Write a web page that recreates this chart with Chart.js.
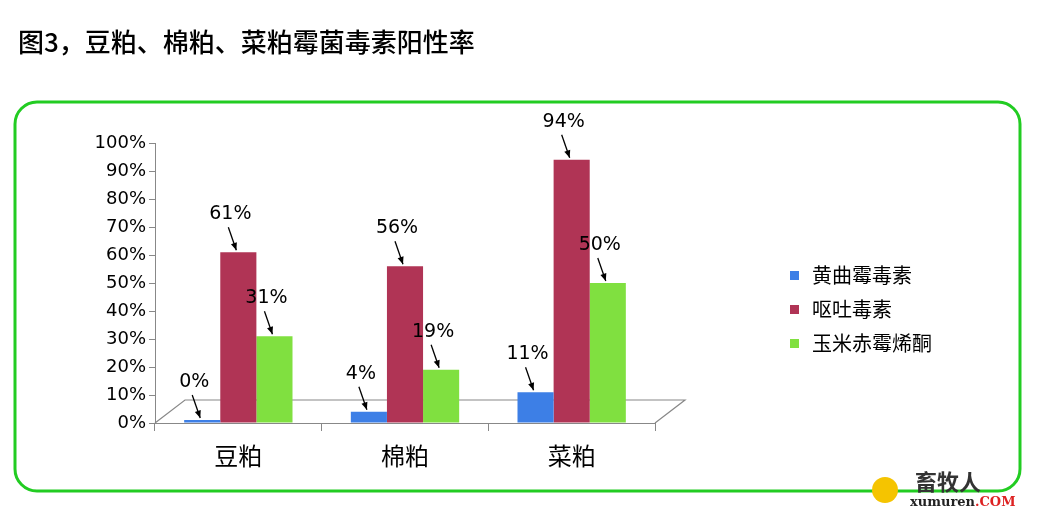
<!DOCTYPE html>
<html><head><meta charset="utf-8">
<script src="https://cdn.jsdelivr.net/npm/chart.js@4"></script>
<style>body{margin:0;background:#fff}#c{display:block}</style>
</head><body>
<canvas id="c" width="1038" height="513"></canvas>
<script>
const categories = ["豆粕", "棉粕", "菜粕"];
const seriesNames = ["黄曲霉毒素", "呕吐毒素", "玉米赤霉烯酮"];
const aflatoxin = [0, 4, 11];
const don = [61, 56, 94];
const zea = [31, 19, 50];
const colors = ["#3d7fe6", "#b03455", "#80e040"];
const cjk = '"Noto Sans CJK SC", sans-serif';

const decor = {
  id: "decor",
  beforeDraw(chart) {
    const c = chart.ctx, a = chart.chartArea;
    c.save();
    c.fillStyle = "#000";
    c.font = "500 26px " + cjk;
    c.textBaseline = "middle";
    c.fillText("图3，豆粕、棉粕、菜粕霉菌毒素阳性率", 18, 42);
    c.strokeStyle = "#22cc22";
    c.lineWidth = 3;
    c.beginPath();
    c.roundRect(15, 102, 1005, 389, 22);
    c.stroke();
    // 3D floor
    c.strokeStyle = "#888";
    c.lineWidth = 1.2;
    c.beginPath();
    c.moveTo(a.left, a.bottom);
    c.lineTo(a.left + 30, a.bottom - 23);
    c.lineTo(a.right + 30, a.bottom - 23);
    c.lineTo(a.right, a.bottom);
    c.stroke();
    c.restore();
  },
  afterDatasetsDraw(chart) {
    const c = chart.ctx;
    c.save();
    chart.data.datasets.forEach((ds, i) => {
      chart.getDatasetMeta(i).data.forEach((bar, j) => {
        const x = bar.x, top = bar.y;
        c.fillStyle = "#000";
        c.font = "19px 'DejaVu Sans', sans-serif";
        c.textAlign = "center";
        c.textBaseline = "middle";
        c.fillText(ds.data[j] + "%", x - 8, top - 38);
        c.strokeStyle = "#000";
        c.lineWidth = 1.3;
        const x0 = x - 10, y0 = top - 25, x1 = x - 2, y1 = top - 2;
        c.beginPath(); c.moveTo(x0, y0); c.lineTo(x1, y1); c.stroke();
        const ang = Math.atan2(y1 - y0, x1 - x0);
        c.beginPath();
        c.moveTo(x1, y1);
        c.lineTo(x1 - 8 * Math.cos(ang - 0.4), y1 - 8 * Math.sin(ang - 0.4));
        c.lineTo(x1 - 8 * Math.cos(ang + 0.4), y1 - 8 * Math.sin(ang + 0.4));
        c.closePath(); c.fill();
      });
    });
    // legend
    c.textAlign = "left";
    c.textBaseline = "middle";
    c.font = "20px " + cjk;
    seriesNames.forEach((n, i) => {
      const y = 275 + i * 34;
      c.fillStyle = colors[i];
      c.fillRect(790, y - 4, 9, 9);
      c.fillStyle = "#000";
      c.fillText(n, 812, y);
    });
    // watermark
    c.fillStyle = "#f5c400";
    c.beginPath(); c.arc(885, 490, 13, 0, Math.PI * 2); c.fill();
    c.font = "bold 22px " + cjk;
    c.fillStyle = "#333";
    c.fillText("畜牧人", 915, 482);
    c.font = "bold 13px 'DejaVu Serif', serif";
    c.fillStyle = "#222";
    c.fillText("xumuren", 910, 503);
    c.fillStyle = "#d22";
    c.fillText(".COM", 975, 503);
    c.restore();
  }
};

new Chart(document.getElementById("c"), {
  type: "bar",
  data: {
    labels: categories,
    datasets: [aflatoxin, don, zea].map((d, i) => ({
      label: seriesNames[i], data: d, backgroundColor: colors[i],
      barPercentage: 1, categoryPercentage: 0.65, minBarLength: 3
    }))
  },
  options: {
    animation: false, responsive: false,
    devicePixelRatio: 1,
    layout: { padding: { top: 143, right: 383, left: 0, bottom: 0 } },
    plugins: { legend: { display: false }, tooltip: { enabled: false } },
    scales: {
      y: {
        min: 0, max: 100,
        ticks: { stepSize: 10, color: "#000", font: { size: 18, family: "DejaVu Sans" }, callback: v => v + "%" },
        grid: { drawOnChartArea: false, color: "#888", tickLength: 6 },
        border: { color: "#888" },
        afterFit: s => { s.width = 155; }
      },
      x: {
        ticks: { color: "#000", font: { size: 24, family: cjk }, padding: 10 },
        grid: { drawOnChartArea: false, offset: true, color: "#888", tickLength: 8 },
        border: { color: "#888" },
        afterFit: s => { s.height = 90; }
      }
    }
  },
  plugins: [decor]
});
</script>
</body></html>
